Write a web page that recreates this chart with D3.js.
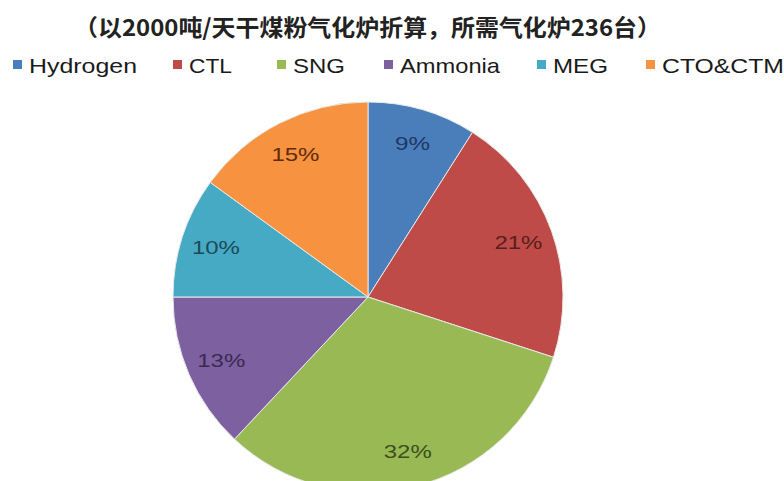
<!DOCTYPE html>
<html>
<head>
<meta charset="utf-8">
<script src="https://cdn.jsdelivr.net/npm/d3@7"></script>
<style>
  body { margin: 0; background: #fff; }
</style>
</head>
<body>
<div id="chart"></div>
<script>
// data
const categories = ["Hydrogen", "CTL", "SNG", "Ammonia", "MEG", "CTO&CTM"];
const shares = [9, 21, 32, 13, 10, 15];
const colors = ["#4a7ebb", "#be4b48", "#98b954", "#7d60a0", "#46aac5", "#f69240"];
const labelColors = ["#1f3864", "#5a1e1c", "#3d4f1c", "#3a2a52", "#1c4a5a", "#5e2c08"];
const title = "（以2000吨/天干煤粉气化炉折算，所需气化炉236台）";

const width = 784, height = 481;
const cx = 368, cy = 297, r = 195;

const svg = d3.select("#chart")
              .append("svg")
              .attr("width", width)
              .attr("height", height);

// Title
svg.append("text")
   .attr("x", 74)
   .attr("y", 36)
   .attr("textLength", 587)
   .attr("lengthAdjust", "spacingAndGlyphs")
   .style("font-family", "'Noto Sans CJK SC', sans-serif")
   .style("font-weight", "bold")
   .style("font-size", "23px")
   .style("fill", "#222")
   .text(title);

// Legend
const legendX = [13, 173, 277, 384, 537, 646];
const legendW = [108, 43, 52, 100, 55, 122];

const legend = svg.append("g")
   .selectAll("g")
   .data(categories)
   .join("g")
   .attr("transform", (d, i) => `translate(${legendX[i]},0)`);

legend.append("rect")
   .attr("x", 0)
   .attr("y", 60)
   .attr("width", 9)
   .attr("height", 9)
   .attr("fill", (d, i) => colors[i]);

legend.append("text")
   .attr("x", 16)
   .attr("y", 73)
   .attr("textLength", (d, i) => legendW[i])
   .attr("lengthAdjust", "spacingAndGlyphs")
   .style("font-family", "'Liberation Sans', Arial, sans-serif")
   .style("font-size", "21px")
   .style("fill", "#1a1a1a")
   .text(d => d);

// Pie
const pie = d3.pie().sort(null).value(d => d);
const arcs = pie(shares);

const arc = d3.arc().innerRadius(0).outerRadius(r);
const labelArc = d3.arc().innerRadius(r * 0.82).outerRadius(r * 0.82);

const g = svg.append("g")
   .attr("transform", `translate(${cx},${cy})`);

g.selectAll("path")
   .data(arcs)
   .join("path")
   .attr("d", arc)
   .attr("fill", (d, i) => colors[i])
   .attr("stroke", "#e8e8e8")
   .attr("stroke-width", 1);

g.selectAll("text")
   .data(arcs)
   .join("text")
   .attr("transform", d => `translate(${labelArc.centroid(d)})`)
   .attr("text-anchor", "middle")
   .attr("dominant-baseline", "central")
   .attr("textLength", d => d.data >= 10 ? 48 : 35)
   .attr("lengthAdjust", "spacingAndGlyphs")
   .style("font-family", "'Liberation Sans', Arial, sans-serif")
   .style("font-size", "19px")
   .style("fill", (d, i) => labelColors[i])
   .text(d => d.data + "%");
</script>
</body>
</html>
